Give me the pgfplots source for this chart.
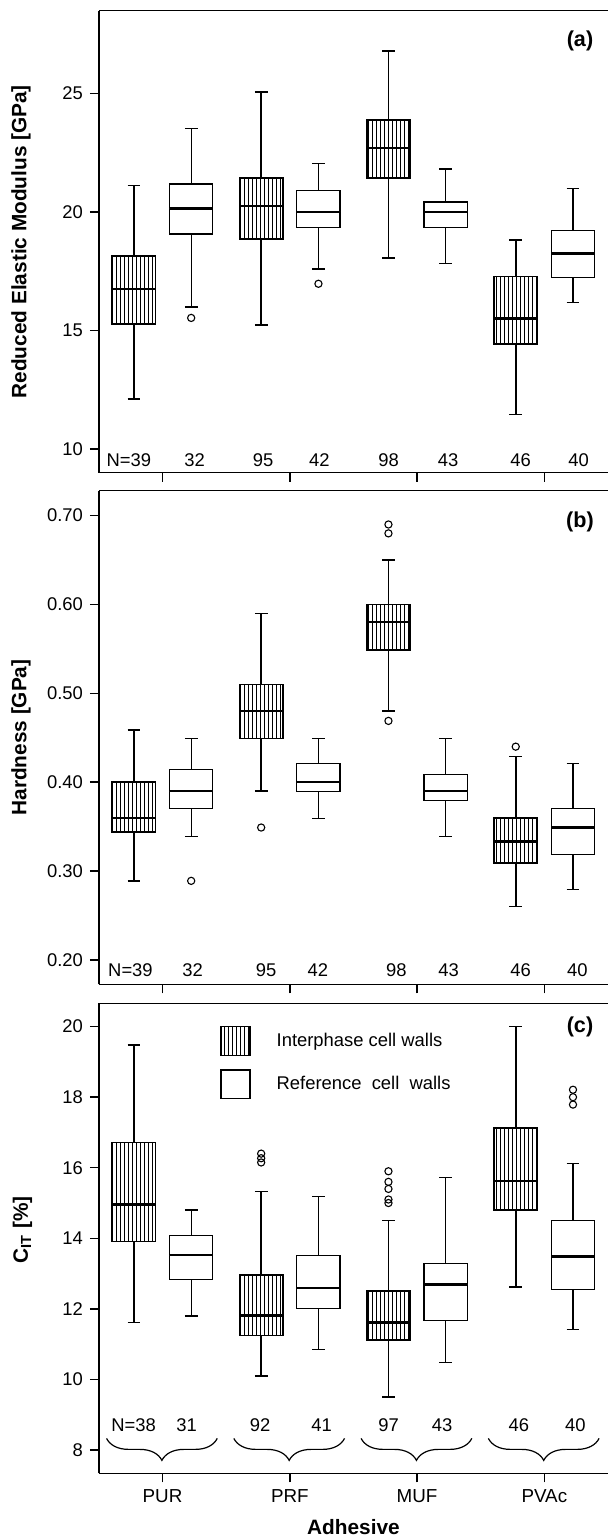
\documentclass[border=0pt]{standalone}
\usepackage{pgfplots}
\pgfplotsset{compat=1.18}
\usepackage{fontspec}
\setmainfont{Liberation Sans}
\usetikzlibrary{patterns.meta,decorations.pathreplacing}
\usepgfplotslibrary{statistics}

\newcommand\ft{\fontsize{9.2}{11}\selectfont}
\newcommand\fb{\fontsize{10.4}{12}\selectfont\bfseries}

\pgfplotsset{
  panel/.style={
    scale only axis, width=254.55pt,
    xmin=0.5, xmax=4.5,
    xtick={1,2,3,4}, xticklabels={},
    axis y line*=left, axis x line*=box,
    axis line style={-, line width=0.75pt},
    xtick pos=lower, ytick pos=left,
    tick align=outside, major tick length=4.5pt,
    tick style={line width=0.75pt, black},
    ticklabel style={font=\ft},
    /pgf/number format/assume math mode=true,
    every axis y label/.style={at={(axis description cs:-0.153,0.5)}, rotate=90, anchor=center, font=\fb},
    boxplot/draw direction=y,
    boxplot/box extend=0.34,
    boxplot/whisker extend=0.1,
    clip=false,
  },
  inter/.style={draw=black, line width=0.8pt,
    pattern={Lines[angle=90,distance=2pt,line width=0.5pt]},
    mark=o, mark size=1.8pt, mark options={line width=0.55pt, fill=none},
    boxplot/every median/.style={line width=1.2pt}, forget plot},
  refer/.style={draw=black, line width=0.6pt, fill=white,
    mark=o, mark size=1.8pt, mark options={line width=0.55pt, fill=none},
    boxplot/every median/.style={line width=1.2pt}, forget plot},
}

\begin{document}
\begin{tikzpicture}
\useasboundingbox (0,0) rectangle (304pt,-768pt);

% (a) reduced elastic modulus
\begin{axis}[panel, at={(49.45pt,-5.35pt)}, anchor=north west, height=231pt,
  ymin=9.0, ymax=28.49, ytick={10,15,20,25},
  ylabel={Reduced Elastic Modulus [GPa]}]
\addplot[inter, boxplot prepared={draw position=0.775, lower whisker=12.12, lower quartile=15.27, median=16.76, upper quartile=18.13, upper whisker=21.11}] coordinates {};
\addplot[refer, boxplot prepared={draw position=1.225, lower whisker=15.99, lower quartile=19.07, median=20.15, upper quartile=21.18, upper whisker=23.53}] coordinates {(0,15.53)};
\addplot[inter, boxplot prepared={draw position=1.775, lower whisker=15.22, lower quartile=18.86, median=20.24, upper quartile=21.43, upper whisker=25.05}] coordinates {};
\addplot[refer, boxplot prepared={draw position=2.225, lower whisker=17.59, lower quartile=19.35, median=20.0, upper quartile=20.90, upper whisker=22.04}] coordinates {(0,16.97)};
\addplot[inter, boxplot prepared={draw position=2.775, lower whisker=18.06, lower quartile=21.43, median=22.70, upper quartile=23.89, upper whisker=26.78}] coordinates {};
\addplot[refer, boxplot prepared={draw position=3.225, lower whisker=17.83, lower quartile=19.35, median=20.0, upper quartile=20.42, upper whisker=21.81}] coordinates {};
\addplot[inter, boxplot prepared={draw position=3.775, lower whisker=11.46, lower quartile=14.43, median=15.50, upper quartile=17.28, upper whisker=18.82}] coordinates {};
\addplot[refer, boxplot prepared={draw position=4.225, lower whisker=16.19, lower quartile=17.23, median=18.24, upper quartile=19.22, upper whisker=20.98}] coordinates {};
\node[font=\fontsize{10.8}{12}\selectfont\bfseries] at (rel axis cs:0.945,0.935) {(a)};
\foreach \xx/\nn in {0.735/N=39, 1.252/32, 1.79/95, 2.232/42, 2.777/98, 3.243/43, 3.813/46, 4.27/40}
  {\edef\tmp{\noexpand\node[font=\noexpand\ft] at (axis cs:\xx,9.54) {\nn};}\tmp}
\end{axis}

% (b) hardness
\begin{axis}[panel, at={(49.45pt,-245.35pt)}, anchor=north west, height=246.8pt,
  ymin=0.1726, ymax=0.728, ytick={0.2,0.3,0.4,0.5,0.6,0.7},
  yticklabel style={/pgf/number format/.cd, fixed, fixed zerofill, precision=2},
  ylabel={Hardness [GPa]}]
\addplot[inter, boxplot prepared={draw position=0.775, lower whisker=0.289, lower quartile=0.344, median=0.3595, upper quartile=0.400, upper whisker=0.459}] coordinates {};
\addplot[refer, boxplot prepared={draw position=1.225, lower whisker=0.339, lower quartile=0.370, median=0.390, upper quartile=0.414, upper whisker=0.449}] coordinates {(0,0.289)};
\addplot[inter, boxplot prepared={draw position=1.775, lower whisker=0.390, lower quartile=0.449, median=0.480, upper quartile=0.510, upper whisker=0.590}] coordinates {(0,0.349)};
\addplot[refer, boxplot prepared={draw position=2.225, lower whisker=0.3595, lower quartile=0.390, median=0.400, upper quartile=0.421, upper whisker=0.449}] coordinates {};
\addplot[inter, boxplot prepared={draw position=2.775, lower whisker=0.480, lower quartile=0.549, median=0.580, upper quartile=0.600, upper whisker=0.650}] coordinates {(0,0.690) (0,0.680) (0,0.469)};
\addplot[refer, boxplot prepared={draw position=3.225, lower whisker=0.339, lower quartile=0.379, median=0.390, upper quartile=0.409, upper whisker=0.449}] coordinates {};
\addplot[inter, boxplot prepared={draw position=3.775, lower whisker=0.260, lower quartile=0.309, median=0.3335, upper quartile=0.3595, upper whisker=0.429}] coordinates {(0,0.440)};
\addplot[refer, boxplot prepared={draw position=4.225, lower whisker=0.279, lower quartile=0.319, median=0.349, upper quartile=0.370, upper whisker=0.421}] coordinates {};
\node[font=\fontsize{10.8}{12}\selectfont\bfseries] at (rel axis cs:0.945,0.937) {(b)};
\foreach \xx/\nn in {0.748/N=39, 1.237/32, 1.814/95, 2.22/42, 2.838/98, 3.248/43, 3.813/46, 4.259/40}
  {\edef\tmp{\noexpand\node[font=\noexpand\ft] at (axis cs:\xx,0.1887) {\nn};}\tmp}
\end{axis}

% (c) creep
\begin{axis}[panel, at={(49.45pt,-501.65pt)}, anchor=north west, height=235pt,
  ymin=7.34, ymax=20.66, ytick={8,10,12,14,16,18,20},
  xticklabels={PUR,PRF,MUF,PVAc},
  xticklabel style={font=\fontsize{9.4}{11}\selectfont},
  xlabel={Adhesive},
  every axis x label/.style={at={(axis description cs:0.5,0)}, anchor=center, yshift=-26.8pt, font=\fb},
  ylabel={C\textsubscript{IT} [\%]},
  every axis y label/.append style={at={(axis description cs:-0.15,0.518)}},
  legend style={at={(0.238,0.952)}, anchor=north west, draw=none, fill=none,
    inner sep=0pt, row sep=6.6pt, font=\ft, nodes={inner sep=0pt}},
  legend cell align=left,
  legend style={/tikz/every odd column/.append style={column sep=13pt}}]
\addlegendimage{legend image code/.code={\draw[line width=0.6pt, pattern={Lines[angle=90,distance=2pt,line width=0.5pt]}] (0pt,-7.2pt) rectangle (14.5pt,7.2pt);}}
\addlegendentry{Interphase cell walls}
\addlegendimage{legend image code/.code={\draw[line width=0.6pt] (0pt,-7.2pt) rectangle (14.5pt,7.2pt);}}
\addlegendentry{Reference\ \ cell\ \ walls}
\addplot[inter, boxplot prepared={draw position=0.775, lower whisker=11.61, lower quartile=13.91, median=14.96, upper quartile=16.72, upper whisker=19.48}] coordinates {};
\addplot[refer, boxplot prepared={draw position=1.225, lower whisker=11.80, lower quartile=12.84, median=13.52, upper quartile=14.07, upper whisker=14.80}] coordinates {};
\addplot[inter, boxplot prepared={draw position=1.775, lower whisker=10.10, lower quartile=11.25, median=11.81, upper quartile=12.96, upper whisker=15.33}] coordinates {(0,16.15) (0,16.27) (0,16.40)};
\addplot[refer, boxplot prepared={draw position=2.225, lower whisker=10.84, lower quartile=12.0, median=12.60, upper quartile=13.51, upper whisker=15.19}] coordinates {};
\addplot[inter, boxplot prepared={draw position=2.775, lower whisker=9.51, lower quartile=11.11, median=11.61, upper quartile=12.50, upper whisker=14.51}] coordinates {(0,15.9) (0,15.6) (0,15.4) (0,15.1) (0,15.0)};
\addplot[refer, boxplot prepared={draw position=3.225, lower whisker=10.49, lower quartile=11.66, median=12.69, upper quartile=13.29, upper whisker=15.72}] coordinates {};
\addplot[inter, boxplot prepared={draw position=3.775, lower whisker=12.62, lower quartile=14.80, median=15.62, upper quartile=17.12, upper whisker=20.0}] coordinates {};
\addplot[refer, boxplot prepared={draw position=4.225, lower whisker=11.41, lower quartile=12.54, median=13.48, upper quartile=14.51, upper whisker=16.12}] coordinates {(0,18.21) (0,18.0) (0,17.79)};
\node[font=\fontsize{10.8}{12}\selectfont\bfseries] at (rel axis cs:0.945,0.950) {(c)};
\foreach \xx/\nn in {0.772/N=38, 1.19/31, 1.766/92, 2.25/41, 2.777/97, 3.196/43, 3.80/46, 4.244/40}
  {\edef\tmp{\noexpand\node[font=\noexpand\ft] at (axis cs:\xx,8.71) {\nn};}\tmp}
\foreach \aa/\bb in {0.56/1.43, 1.56/2.43, 2.56/3.43, 3.56/4.43}
  {\edef\tmp{\noexpand\draw[decorate, decoration={brace, amplitude=11pt, mirror}, line width=0.6pt]
     (axis cs:\aa,8.33) -- (axis cs:\bb,8.33);}\tmp}
\end{axis}
\end{tikzpicture}
\end{document}
